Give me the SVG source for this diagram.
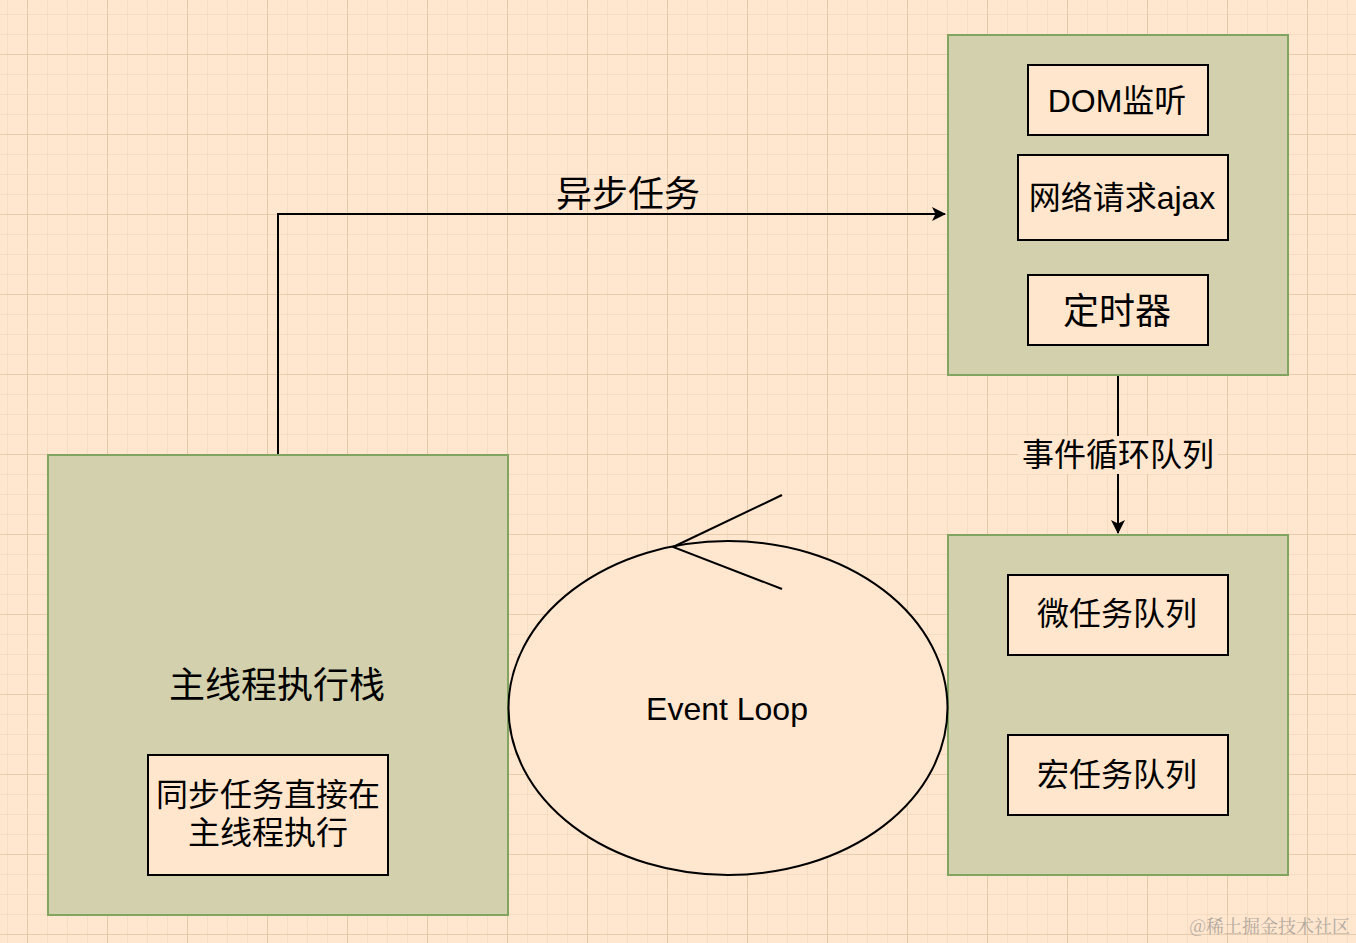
<svg xmlns="http://www.w3.org/2000/svg" width="1356" height="943" viewBox="0 0 1356 943">
<defs>
<pattern id="minor" x="7" y="14" width="20" height="20" patternUnits="userSpaceOnUse">
<path d="M0 0H20M0 0V20" fill="none" stroke="#f5d9bd" stroke-width="1.5"/>
</pattern>
<pattern id="major" x="27" y="54" width="80" height="80" patternUnits="userSpaceOnUse">
<path d="M0 0H80M0 0V80" fill="none" stroke="#d9bc9c" stroke-width="1.2"/>
</pattern>
<marker id="arr" viewBox="0 0 14 14" refX="13" refY="7" markerWidth="14" markerHeight="14" markerUnits="userSpaceOnUse" orient="auto">
<path d="M0 0L14 7L0 14L3.5 7Z" fill="#000"/>
</marker>
<style>
.grp{fill:#d3d1ad;stroke:#82a461;stroke-width:2}
.box{fill:#ffe6cc;stroke:#000;stroke-width:2}
.t{font-family:"Liberation Sans","Noto Sans CJK SC",sans-serif;fill:#000;text-anchor:middle;dominant-baseline:central}
.line{fill:none;stroke:#000;stroke-width:2}
</style>
</defs>
<rect width="1356" height="943" fill="#ffe6cf"/>
<rect width="1356" height="943" fill="url(#minor)"/>
<rect width="1356" height="943" fill="url(#major)"/>

<g id="connectors">
<path class="line" d="M278 455V214H945" marker-end="url(#arr)"/>
<text class="t" x="628" y="194" font-size="36">异步任务</text>
<path class="line" d="M1118 375V533" marker-end="url(#arr)"/>
<rect x="1018" y="436" width="200" height="38" fill="#ffe6cf"/>
<text class="t" x="1118" y="455" font-size="32">事件循环队列</text>
</g>

<g id="async-apis">
<rect class="grp" x="948" y="35" width="340" height="340"/>
</g>
<g id="dom-listen">
<rect class="box" x="1028" y="65" width="180" height="70"/>
<text class="t" x="1117" y="101" font-size="32">DOM监听</text>
</g>
<g id="ajax">
<rect class="box" x="1018" y="155" width="210" height="85"/>
<text class="t" x="1122" y="198" font-size="32">网络请求ajax</text>
</g>
<g id="timer">
<rect class="box" x="1028" y="275" width="180" height="70"/>
<text class="t" x="1117" y="311" font-size="36">定时器</text>
</g>

<g id="queues">
<rect class="grp" x="948" y="535" width="340" height="340"/>
</g>
<g id="micro">
<rect class="box" x="1008" y="575" width="220" height="80"/>
<text class="t" x="1117" y="614" font-size="32">微任务队列</text>
</g>
<g id="macro">
<rect class="box" x="1008" y="735" width="220" height="80"/>
<text class="t" x="1117" y="775" font-size="32">宏任务队列</text>
</g>

<g id="main-stack">
<rect class="grp" x="48" y="455" width="460" height="460"/>
<text class="t" x="277" y="685" font-size="36">主线程执行栈</text>
</g>
<g id="sync">
<rect class="box" x="148" y="755" width="240" height="120"/>
<text class="t" x="268" y="795" font-size="32">同步任务直接在</text>
<text class="t" x="268" y="833" font-size="32">主线程执行</text>
</g>

<g id="event-loop">
<ellipse cx="728" cy="708" rx="219.5" ry="167" fill="#ffe6cf" stroke="#000" stroke-width="2"/>
<path class="line" d="M782 495L673 547L782 589"/>
<text class="t" x="727" y="709" font-size="32">Event Loop</text>
</g>

<text x="1350" y="933" font-family="'Noto Serif CJK SC','Liberation Serif','Noto Sans CJK SC',serif" font-size="18" fill="#a09a94" text-anchor="end" opacity="0.8">@稀土掘金技术社区</text>
</svg>
